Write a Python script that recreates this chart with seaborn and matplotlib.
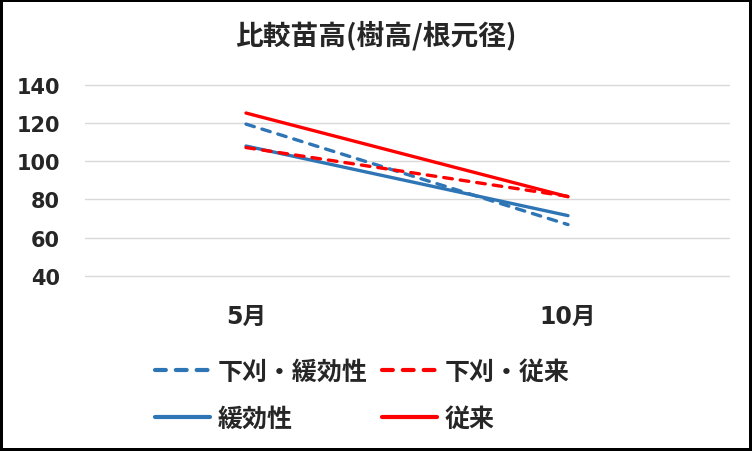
import numpy as np
import pandas as pd
import matplotlib
matplotlib.use("Agg")
import matplotlib.pyplot as plt
import seaborn as sns

# データ
months = ["5月", "10月"]
series_names = ["下刈・緩効性", "緩効性", "下刈・従来", "従来"]
shitagari_kankou = [119.5, 66.8]
kankou = [108.0, 71.5]
shitagari_juurai = [107.2, 81.6]
juurai = [125.3, 81.4]

values = [shitagari_kankou, kankou, shitagari_juurai, juurai]
colors = ["#2E75B6", "#2E75B6", "#FF0000", "#FF0000"]
dashed = [True, False, True, False]

sns.set_theme(style="white")
plt.rcParams['font.family'] = ['Noto Sans CJK JP', 'DejaVu Sans']
num_font = ['DejaVu Sans', 'Noto Sans CJK JP']

fig = plt.figure(figsize=(7.52, 4.52), dpi=100)
ax = fig.add_axes([85/752, 1-276.7/452, (729-85)/752, (276.7-86)/452])

for name, vals, c, d in zip(series_names, values, colors, dashed):
    df = pd.DataFrame({"month": months, "value": vals})
    sns.lineplot(data=df, x="month", y="value", ax=ax, color=c, lw=2.4,
                 label=name, sort=False)
    ln = ax.lines[-1]
    if d:
        ln.set_dashes((2.6, 2.4))
        ln.set_dash_capstyle("round")

ax.set_xlim(-0.5, 1.5)
ax.set_ylim(40, 140)
ax.set_yticks([40, 60, 80, 100, 120, 140])
ax.yaxis.grid(True, color="#D9D9D9", lw=1)
for g in ax.get_ygridlines():
    g.set_clip_on(False)
ax.set_axisbelow(True)
for s in ax.spines.values():
    s.set_visible(False)
ax.set_xlabel("")
ax.set_ylabel("")
ax.tick_params(axis="y", length=0, pad=18)
ax.tick_params(axis="x", length=0, pad=20)
for t in ax.get_yticklabels():
    t.set_fontweight("bold")
    t.set_fontsize(15)
    t.set_family(num_font)
for t in ax.get_xticklabels():
    t.set_fontweight("bold")
    t.set_fontsize(17)
    t.set_family(num_font)

if ax.legend_:
    ax.legend_.remove()
h, l = ax.get_legend_handles_labels()
leg = fig.legend(h, l, ncol=2, loc="upper left", bbox_to_anchor=(155/752, 1-361/452),
                 frameon=False, borderpad=0, borderaxespad=0,
                 prop={'size': 18, 'weight': 'bold'},
                 handlelength=2.2, handletextpad=0.32, columnspacing=0.55,
                 labelspacing=0.92)
for lh in leg.get_lines():
    lh.set_linewidth(3)

fig.suptitle("比較苗高(樹高/根元径)", x=376/752, y=1-36/452, va="center",
             fontsize=20, fontweight="bold")

fig.patch.set_edgecolor("black")
fig.patch.set_linewidth(3)
fig.savefig("out.png", dpi=100, facecolor="white", edgecolor="black")
